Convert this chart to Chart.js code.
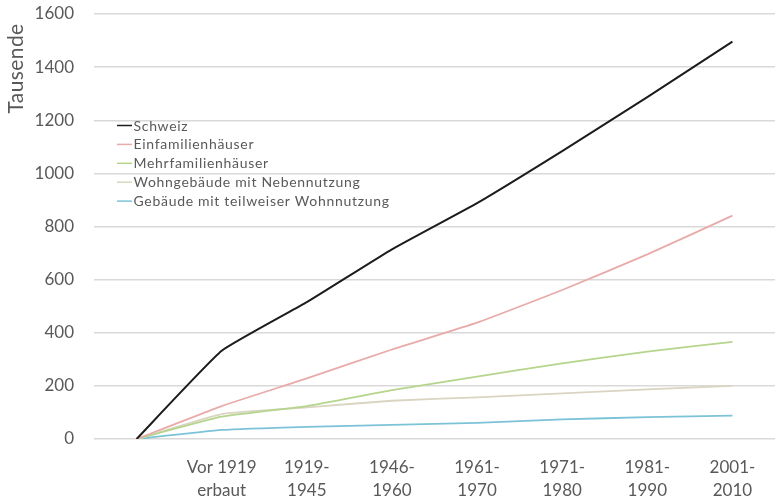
<!DOCTYPE html>
<html>
<head>
<meta charset="utf-8">
<script src="https://cdn.jsdelivr.net/npm/chart.js@4/dist/chart.umd.min.js"></script>
<style>
  html, body { margin: 0; padding: 0; background: #fff; }
  #wrap { position: relative; width: 775px; height: 499px; }
</style>
</head>
<body>
<div id="wrap"><canvas id="c" width="775" height="499"></canvas></div>
<script>
// Gebäudebestand nach Bauperiode, kumuliert (in Tausend)
const categories = ["", ["Vor 1919", "erbaut"], ["1919-", "1945"], ["1946-", "1960"],
  ["1961-", "1970"], ["1971-", "1980"], ["1981-", "1990"], ["2001-", "2010"]];

const schweiz        = [0, 332, 515, 714, 888, 1084, 1287, 1496];
const einfamilien    = [0, 124, 228, 337, 438, 561, 695, 841];
const mehrfamilien   = [0, 84, 124, 184, 235, 285, 329, 366];
const nebennutzung   = [0, 94, 119, 144, 157, 172, 187, 200];
const teilWohnnutzung = [0, 34, 46, 53, 61, 74, 82, 88];

const yTicks = [0, 200, 400, 600, 800, 1000, 1200, 1400, 1600];

const FONT = 'Lato, "Open Sans", sans-serif';
const TEXT = '#595959';

function series(label, data, color, width) {
  return { label, data, borderColor: color, backgroundColor: color,
           borderWidth: width, pointRadius: 0, tension: 0.12, fill: false };
}

// Legend inside the plot and the rotated axis title
const insideLegend = {
  id: 'insideLegend',
  afterDraw(chart) {
    const ctx = chart.ctx;
    ctx.save();
    ctx.font = '14px ' + FONT;
    ctx.letterSpacing = '0.7px';
    ctx.textBaseline = 'middle';
    ctx.textAlign = 'left';
    chart.data.datasets.forEach((ds, i) => {
      const y = 125.5 + i * 18.9;
      ctx.strokeStyle = ds.borderColor;
      ctx.lineWidth = 1.5;
      ctx.beginPath();
      ctx.moveTo(117, y);
      ctx.lineTo(132, y);
      ctx.stroke();
      ctx.fillStyle = TEXT;
      ctx.fillText(ds.label, 133.5, y + 0.5);
    });
    ctx.letterSpacing = '0.4px';
    ctx.translate(16, 68.5);
    ctx.rotate(-Math.PI / 2);
    ctx.textAlign = 'center';
    ctx.font = '21px ' + FONT;
    ctx.fillStyle = TEXT;
    ctx.fillText('Tausende', 0, 0);
    ctx.restore();
  }
};

new Chart(document.getElementById('c'), {
  type: 'line',
  data: {
    labels: categories,
    datasets: [
      series('Schweiz', schweiz, '#1c1c1a', 2),
      series('Einfamilienhäuser', einfamilien, '#e8aba9', 1.8),
      series('Mehrfamilienhäuser', mehrfamilien, '#b6d58c', 1.8),
      series('Wohngebäude mit Nebennutzung', nebennutzung, '#d9d5c2', 1.8),
      series('Gebäude mit teilweiser Wohnnutzung', teilWohnnutzung, '#7cc3d8', 1.8)
    ]
  },
  options: {
    responsive: false,
    animation: false,
    devicePixelRatio: 1,
    layout: { padding: { top: 14, right: 0, bottom: 0, left: 0 } },
    plugins: { legend: { display: false }, tooltip: { enabled: false } },
    scales: {
      x: {
        offset: true,
        grid: { display: false },
        border: { display: false },
        ticks: { color: TEXT, font: { family: FONT, size: 17, lineHeight: 1.35 },
                 padding: 9, maxRotation: 0, autoSkip: false },
        afterFit(scale) { scale.height = 60; scale.paddingTop = 0; scale.paddingBottom = 0; }
      },
      y: {
        min: 0, max: 1600,
        afterBuildTicks(scale) { scale.ticks = yTicks.map(v => ({ value: v })); },
        grid: { color: '#d9d9d9', lineWidth: 1.4, drawTicks: false },
        border: { display: false },
        ticks: { color: TEXT, font: { family: FONT, size: 17 }, padding: 20,
                 callback: v => String(v) },
        afterFit(scale) { scale.width = 94; scale.paddingTop = 0; scale.paddingBottom = 0; }
      }
    }
  },
  plugins: [insideLegend]
});
</script>
</body>
</html>
